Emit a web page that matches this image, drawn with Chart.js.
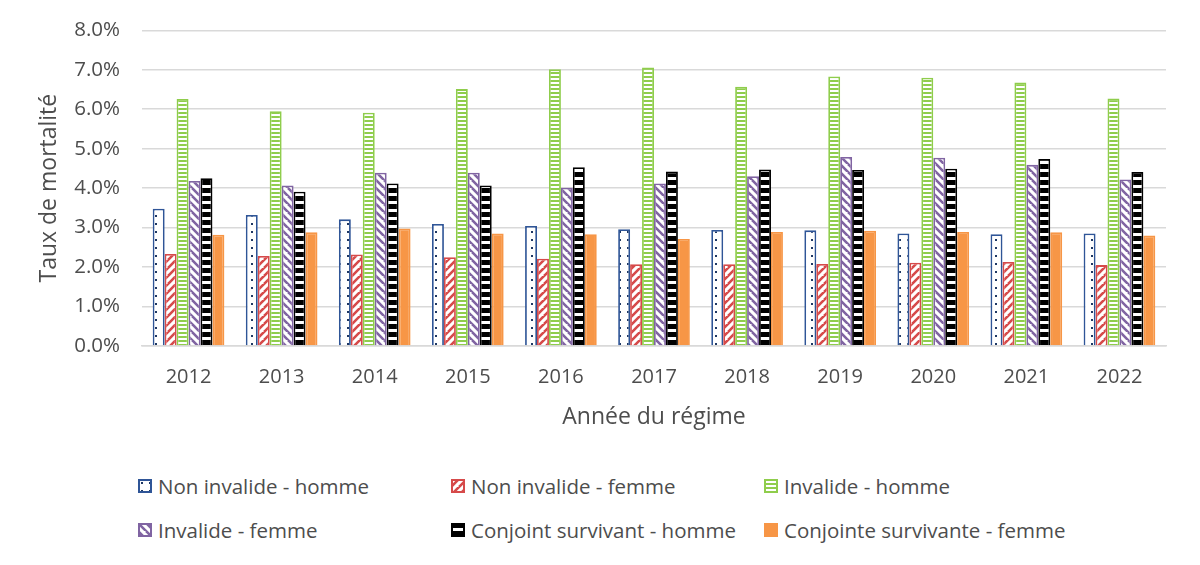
<!DOCTYPE html>
<html lang="fr">
<head>
<meta charset="utf-8">
<script src="https://cdn.jsdelivr.net/npm/chart.js@4.4.1/dist/chart.umd.min.js"></script>
<style>
  html, body { margin: 0; padding: 0; background: #fff; }
  body { width: 1200px; height: 565px; position: relative; overflow: hidden; font-family: "Open Sans", sans-serif; }
  #zone { position: absolute; left: 0; top: -4px; width: 1200px; height: 444px; }
  #legende { position: absolute; left: 0; top: 440px; width: 1200px; height: 125px; }
  .item { position: absolute; display: flex; align-items: center; font-size: 20.5px; color: #4d4d4d; white-space: nowrap; }
  .item canvas { margin-right: 6px; }
</style>
</head>
<body>
<div id="zone"><canvas id="chart"></canvas></div>
<div id="legende"></div>
<script>
const annees = ['2012', '2013', '2014', '2015', '2016', '2017', '2018', '2019', '2020', '2021', '2022'];
const nonInvalideHomme = [3.48, 3.32, 3.21, 3.09, 3.04, 2.96, 2.94, 2.93, 2.85, 2.83, 2.85];
const nonInvalideFemme = [2.33, 2.28, 2.32, 2.25, 2.21, 2.07, 2.07, 2.08, 2.11, 2.13, 2.05];
const invalideHomme = [6.26, 5.95, 5.91, 6.51, 7.01, 7.06, 6.57, 6.83, 6.80, 6.68, 6.27];
const invalideFemme = [4.18, 4.07, 4.39, 4.39, 4.01, 4.12, 4.30, 4.79, 4.77, 4.59, 4.22];
const conjointHomme = [4.25, 3.91, 4.12, 4.07, 4.53, 4.42, 4.47, 4.46, 4.49, 4.74, 4.41];
const conjointeFemme = [2.82, 2.88, 2.98, 2.85, 2.83, 2.71, 2.89, 2.92, 2.89, 2.88, 2.80];

// petits motifs facon Excel
function motif(w, h, dessin) {
    const c = document.createElement('canvas');
    c.width = w; c.height = h;
    const g = c.getContext('2d');
    g.fillStyle = '#fff';
    g.fillRect(0, 0, w, h);
    dessin(g, w, h);
    return g.createPattern(c, 'repeat');
}

function diagonale(couleur, montante) {
    return motif(8, 8, (g) => {
        g.strokeStyle = couleur;
        g.lineWidth = 2.6;
        g.beginPath();
        for (let k = -8; k <= 16; k += 8) {
            if (montante) { g.moveTo(k - 8, 8); g.lineTo(k + 8, -8); }
            else { g.moveTo(k - 8, 0); g.lineTo(k + 8, 16); }
        }
        g.stroke();
    });
}

const bleu = '#2f5597', rouge = '#d64a4a', vert = '#8fcd4c', violet = '#8064a2', noir = '#000000', orange = '#f79646';

const motifPoints = motif(8, 8, (g) => { g.fillStyle = '#1f3864'; g.fillRect(3, 3, 2, 2); });
const motifRouge = diagonale(rouge, true);
const motifVert = motif(4, 4, (g) => { g.fillStyle = vert; g.fillRect(0, 0, 4, 2); });
const motifViolet = diagonale(violet, false);
const motifNoir = motif(8, 8, (g) => { g.fillStyle = noir; g.fillRect(0, 0, 8, 5); });

const series = [
    { label: 'Non invalide - homme', data: nonInvalideHomme, fond: motifPoints, bord: bleu },
    { label: 'Non invalide - femme', data: nonInvalideFemme, fond: motifRouge, bord: rouge },
    { label: 'Invalide - homme', data: invalideHomme, fond: motifVert, bord: vert },
    { label: 'Invalide - femme', data: invalideFemme, fond: motifViolet, bord: violet },
    { label: 'Conjoint survivant - homme', data: conjointHomme, fond: motifNoir, bord: noir },
    { label: 'Conjointe survivante - femme', data: conjointeFemme, fond: orange, bord: orange }
];

const gris = '#4d4d4d';

const chart = new Chart(document.getElementById('chart'), {
    type: 'bar',
    data: {
        labels: annees,
        datasets: series.map(s => ({
            label: s.label,
            data: s.data,
            backgroundColor: s.fond,
            borderColor: s.bord,
            borderWidth: 1.8,
            categoryPercentage: 0.77,
            barPercentage: 1.0
        }))
    },
    options: {
        responsive: true,
        maintainAspectRatio: false,
        animation: false,
        layout: { padding: { left: 0, right: 34, top: 16, bottom: 0 } },
        plugins: {
            legend: { display: false },
            tooltip: { enabled: false }
        },
        scales: {
            x: {
                grid: { display: false },
                border: { color: '#d9d9d9', width: 1.5 },
                ticks: { color: gris, font: { family: 'Open Sans', size: 20 }, padding: 11 },
                title: {
                    display: true, text: 'Année du régime', color: gris,
                    font: { family: 'Open Sans', size: 23 }, padding: { top: 2, bottom: 9 }
                },
                afterFit: (s) => { s.height = 94; }
            },
            y: {
                min: 0, max: 8,
                grid: { color: '#d9d9d9', lineWidth: 1.5, drawTicks: false },
                border: { display: false },
                ticks: {
                    stepSize: 1, color: gris, padding: 22,
                    font: { family: 'Open Sans', size: 20.5 },
                    callback: (v) => v.toFixed(1) + '%'
                },
                title: {
                    display: true, text: 'Taux de mortalité', color: gris,
                    font: { family: 'Open Sans', size: 23 }, padding: { top: 36, bottom: 0 }
                },
                afterFit: (s) => { s.width = 142; }
            }
        }
    }
});

// legende en 3 colonnes, comme l'original
const positions = [[138, 0], [451, 0], [764, 0], [138, 1], [451, 1], [764, 1]];
const legende = document.getElementById('legende');
series.forEach((s, i) => {
    const el = document.createElement('div');
    el.className = 'item';
    el.style.left = positions[i][0] + 'px';
    el.style.top = (positions[i][1] * 44 + 32) + 'px';
    const c = document.createElement('canvas');
    c.width = 14; c.height = 14;
    const g = c.getContext('2d');
    g.fillStyle = s.fond;
    g.fillRect(0, 0, 14, 14);
    g.strokeStyle = s.bord;
    g.lineWidth = 2;
    g.strokeRect(1, 1, 12, 12);
    el.appendChild(c);
    const t = document.createElement('span');
    t.textContent = s.label;
    el.appendChild(t);
    legende.appendChild(el);
});
</script>
</body>
</html>
